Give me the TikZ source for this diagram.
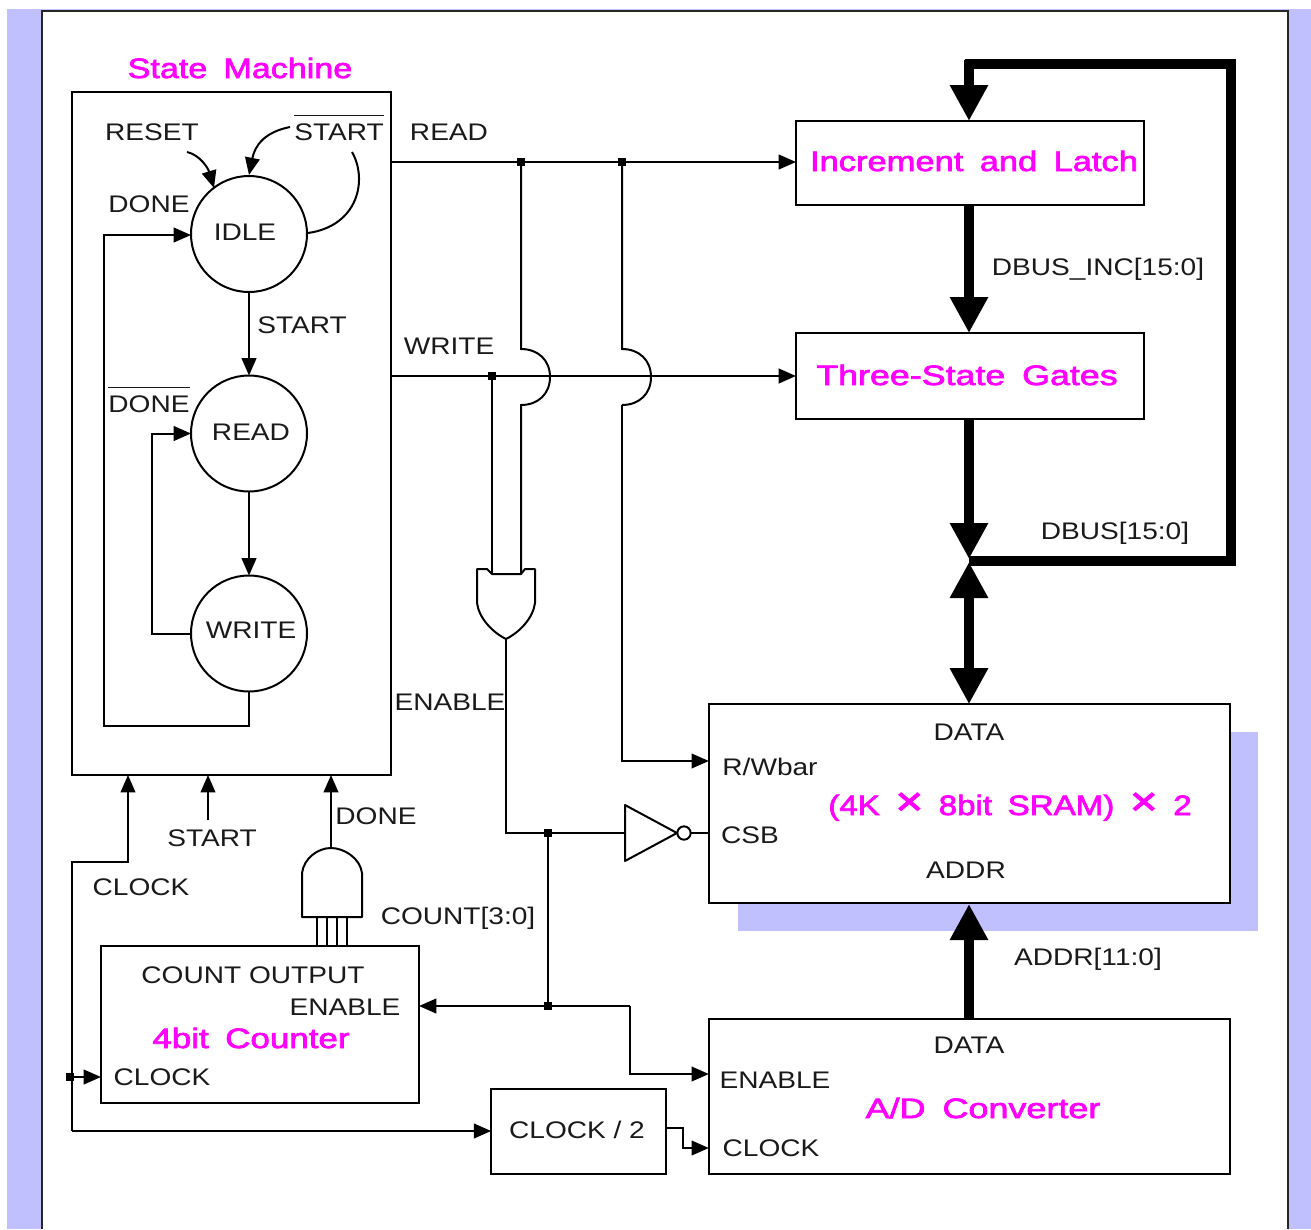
\documentclass[tikz,border=0pt]{standalone}
\usepackage{fontspec}
\usepackage{graphicx}
\setmainfont[FakeStretch=1.17]{Liberation Sans}
\newfontfamily\magfont[FakeStretch=1.2,FakeBold=2.5,WordSpace=1.7]{Liberation Sans}
\newcommand{\sx}[2]{\scalebox{#1}[1]{#2}}
\newcommand{\barred}[1]{$\overline{\mbox{\rule{0pt}{17.5pt}#1}}$}
\newcommand{\bigx}{{\fontsize{30pt}{30pt}\selectfont ×}}
\usetikzlibrary{arrows.meta,calc}
\definecolor{lav}{HTML}{C0C0FF}
\definecolor{mag}{HTML}{FF00FF}
\definecolor{ink}{HTML}{1A1A1A}
\tikzset{
  wire/.style={draw=black,line width=1.5pt,line join=miter},
  arr/.style={wire,-{Triangle[width=11pt,length=13pt]}},
  bus/.style={draw=black,line width=7.5pt,line join=miter},
  busarr/.style={bus,-{Triangle[width=27pt,length=27pt]}},
  busboth/.style={bus,{Triangle[width=27pt,length=27pt]}-{Triangle[width=27pt,length=27pt]}},
  blockbox/.style={draw=black,line width=1.5pt,fill=white,rectangle,inner sep=0pt,outer sep=0pt},
  statebox/.style={draw=black,line width=1.5pt,fill=white,circle,inner sep=0pt,outer sep=0pt,minimum size=87pt},
  lbl/.style={text=ink,font=\fontsize{18pt}{20pt}\selectfont,inner sep=0pt,text height=13pt,text depth=0pt},
  mlbl/.style={text=mag,font=\magfont\fontsize{21pt}{24pt}\selectfont,inner sep=0pt,text height=15pt,text depth=0pt},
  dotn/.style={fill=black,draw=none,rectangle,minimum size=6pt,inner sep=0pt,outer sep=0pt},
  gate/.style={draw=black,line width=1.5pt,fill=white,line join=round},
}
\begin{document}
\begin{tikzpicture}[x=0.75pt,y=-0.75pt]
\useasboundingbox (0,0) rectangle (1311,1229);
% page background
\fill[white] (0,0) rectangle (1311,1229);
\fill[lav] (7,9) rectangle (1311,1229);
\fill[white] (42,11) rectangle (1288,1229);
\draw[line width=2pt,draw=black!85] (42,1229) -- (42,11) -- (1288,11) -- (1288,1229);
% SRAM shadow
\fill[lav] (738,732) rectangle (1258,931);

% blocks
\node[blockbox,minimum width=239pt,minimum height=512pt] (sm) at (231.5,433.5) {};
\node[blockbox,minimum width=261pt,minimum height=63pt] (inc) at (970,163) {};
\node[blockbox,minimum width=261pt,minimum height=64.5pt] (three) at (970,376) {};
\node[blockbox,minimum width=391pt,minimum height=149pt] (sram) at (969.5,803.5) {};
\node[blockbox,minimum width=391pt,minimum height=116pt] (adc) at (969.5,1096.5) {};
\node[blockbox,minimum width=238.5pt,minimum height=117.5pt] (cnt) at (260,1024.5) {};
\node[blockbox,minimum width=131pt,minimum height=64pt] (div) at (578.5,1131.5) {};

% states
\node[statebox] (idle) at (249,234) {};
\node[statebox] (rd) at (249,433.5) {};
\node[statebox] (wr) at (249,633.5) {};

% helper coordinates
\coordinate (rdS) at (391,162);
\coordinate (wrS) at (391,376);
\node[dotn] (d1) at (521,162) {};
\node[dotn] (d2) at (622,162) {};
\node[dotn] (d3) at (492,376) {};
\node[dotn] (d4) at (548,833) {};
\node[dotn] (d5) at (548,1006) {};
\node[dotn] (d6) at (70,1077) {};

% state machine wires
\draw[arr] (idle.south) -- (rd.north);
\draw[arr] (rd.south) -- (wr.north);
\draw[arr] (wr.west) -- (152,633.5) -- (152,433.5) -- (rd.west);
\draw[arr] (wr.south) -- (249,726) -- (104,726) -- (104,235) -- (191,235);
\coordinate (rs) at (187,152);
\coordinate (st) at (290,127);
\coordinate (lp) at (352,152);
\draw[arr] (rs) .. controls (200,155) and (208,168) .. (214,188);
\draw[arr] (st) .. controls (265,132) and (255,145) .. (249,175);
\draw[wire] (lp) .. controls (368,180) and (358,226) .. (308,233);

% read and write lines
\draw[arr] (rdS) -- (inc.west |- rdS);
\draw[arr] (wrS) -- (three.west |- wrS);
\draw[wire] (d1.center) -- (521,349) .. controls (538,349) and (550,360) .. (550,377) .. controls (550,394) and (538,405) .. (521,405) -- (521,574);
\draw[wire] (d2.center) -- (622,349) .. controls (639,349) and (651,360) .. (651,377) .. controls (651,394) and (639,405) .. (622,405);
\draw[arr] (622,405) -- (622,761) -- (sram.west |- 0,761);
\draw[wire] (d3.center) -- (492,574);

% OR gate
\draw[gate] (477,569) -- (487,569) -- (492,574) -- (521,574) -- (525,569) -- (535,569) -- (535,603)
  .. controls (533,618) and (520,632) .. (506,639) .. controls (492,632) and (479,618) .. (477,603) -- cycle;
\coordinate (orO) at (506,639);

% inverter
\draw[gate] (625,805) -- (677,833) -- (625,861) -- cycle;
\node[draw=black,line width=1.5pt,fill=white,circle,minimum size=10pt,inner sep=0pt,outer sep=0pt] (bub) at (684,833) {};
\draw[wire] (orO) -- (506,833) -- (625,833);
\draw[wire] (bub.east) -- (sram.west |- bub);
\draw[wire] (d4.center) -- (d5.center);
\draw[arr] (630,1006) -- (cnt.east |- d5);
\draw[arr] (630,1006) -- (630,1074) -- (adc.west |- 0,1074);

% clock wiring
\draw[arr] (72,1131) -- (72,862) -- (128,862) -- (128,775);
\draw[arr] (72,1131) -- (div.west |- 0,1131);
\draw[arr] (d6.center) -- (cnt.west |- d6);
\coordinate (stIn) at (208,820);
\draw[arr] (stIn) -- (208,775);
\draw[arr] (div.east |- 0,1128) -- (683,1128) -- (683,1148) -- (adc.west |- 0,1148);

% AND gate
\draw[gate] (302,917) -- (302,873) .. controls (304,858) and (318,848) .. (331,848) .. controls (344,848) and (360,858) .. (362,873) -- (362,917) -- cycle;
\draw[arr] (331,848) -- (331,775);
\foreach \xx in {317,327,337,347} \draw[wire] (\xx,917) -- (\xx,946);

% buses
\draw[busarr] (969,0 |- inc.south) -- (969,0 |- three.north);
\draw[busarr] (969,0 |- three.south) -- (969,559);
\draw[busboth] (969,562) -- (969,0 |- sram.north);
\draw[bus] (969,561) -- (1231,561) -- (1231,64) -- (965,64);
\draw[busarr] (969,60) -- (969,0 |- inc.north);
\draw[busarr] (969,0 |- adc.north) -- (969,904);

% texts
\node[mlbl] (tSM) at (240,68) {\sx{1.015}{State Machine}};
\node[mlbl] (tInc) at (974,161) {\sx{1.027}{Increment and Latch}};
\node[mlbl] (tThree) at (967,375) {\sx{1.065}{Three-State Gates}};
\node[mlbl] (tSram) at (1010,805) {\sx{0.985}{(4K \bigx{} 8bit SRAM) \bigx{} 2}};
\node[mlbl] (t4b) at (251,1038) {\sx{1.04}{4bit Counter}};
\node[mlbl] (tAD) at (983,1108) {\sx{1.07}{A/D Converter}};
\node[lbl] (t1) at (152,132) {RESET};
\node[lbl] (t2) at (339,132) {\barred{START}};
\node[lbl] (t3) at (449,132) {READ};
\node[lbl] (t4) at (149,204) {DONE};
\node[lbl] (t5) at (245,232) {IDLE};
\node[lbl] (t6) at (302,325) {START};
\node[lbl] (t7) at (449,346) {WRITE};
\node[lbl] (t8) at (149,404) {\barred{DONE}};
\node[lbl] (t9) at (251,432) {READ};
\node[lbl] (t10) at (251,630) {WRITE};
\node[lbl] (t11) at (450,702) {ENABLE};
\node[lbl] (t12) at (376,816) {DONE};
\node[lbl] (t13) at (212,838) {START};
\node[lbl] (t14) at (141,887) {CLOCK};
\node[lbl] (t15) at (458,916) {COUNT[3:0]};
\node[lbl] (t16) at (253,975) {COUNT OUTPUT};
\node[lbl] (t17) at (345,1007) {ENABLE};
\node[lbl] (t18) at (162,1077) {CLOCK};
\node[lbl] (t19) at (577,1130) {CLOCK / 2};
\node[lbl] (t20) at (969,732) {DATA};
\node[lbl] (t21) at (770,767) {R/Wbar};
\node[lbl] (t22) at (750,835) {CSB};
\node[lbl] (t23) at (966,870) {ADDR};
\node[lbl] (t24) at (969,1045) {DATA};
\node[lbl] (t25) at (775,1080) {ENABLE};
\node[lbl] (t26) at (771,1148) {CLOCK};
\node[lbl] (t27) at (1098,267) {DBUS\_INC[15:0]};
\node[lbl] (t28) at (1115,531) {DBUS[15:0]};
\node[lbl] (t29) at (1088,957) {ADDR[11:0]};
\end{tikzpicture}
\end{document}
